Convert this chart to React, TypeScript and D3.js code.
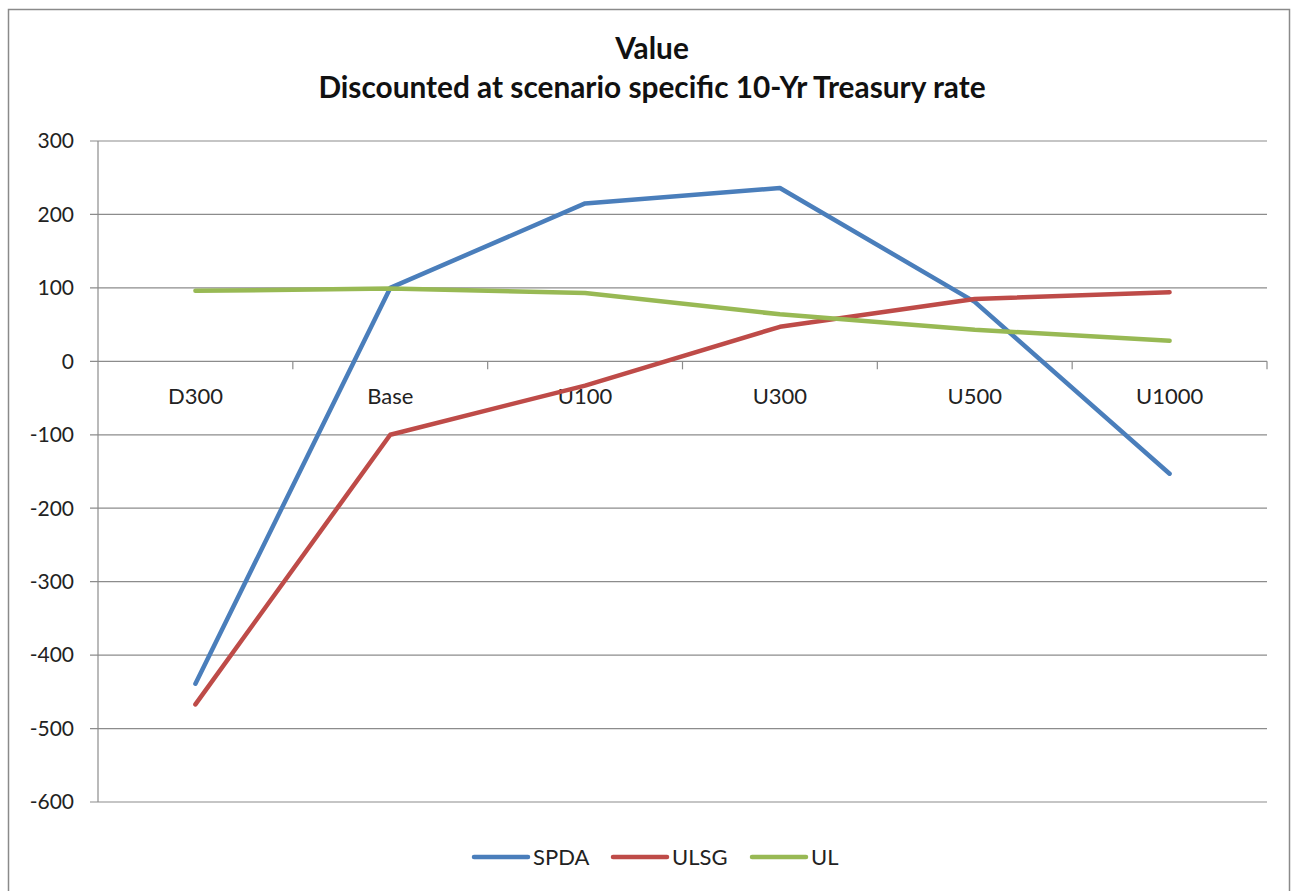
import React from "react";
import * as d3 from "d3";

const categories = ["D300", "Base", "U100", "U300", "U500", "U1000"];
const spda = [-439, 100, 215, 236, 81, -153];
const ulsg = [-467, -100, -33, 47, 85, 94];
const ul = [96, 99, 93, 64, 43, 28];
const yTicks = [300, 200, 100, 0, -100, -200, -300, -400, -500, -600];
const seriesNames = ["SPDA", "ULSG", "UL"];
const seriesColors = ["#4A7EBB", "#BE4B48", "#98B954"];

const W = 1299;
const H = 891;
const FONT = "Lato, 'Open Sans', sans-serif";

export default function App() {
  const left = 98;
  const right = 1267;
  const top = 141;
  const bottom = 802;
  const x = d3.scaleBand<string>().domain(categories).range([left, right]);
  const y = d3.scaleLinear().domain([-600, 300]).range([bottom, top]);
  const line = d3
    .line<number>()
    .x((_, i) => (x(categories[i]) as number) + x.bandwidth() / 2)
    .y((d) => y(d));
  const series = [spda, ulsg, ul];
  const legendX = [474, 613, 752];
  const legendY = 857;
  const gridColor = "#8c8c8c";

  return (
    <svg
      width={W}
      height={H}
      style={{ position: "absolute", left: 0, top: 0, display: "block" }}
      fontFamily={FONT}
    >
      <rect x={0} y={0} width={W} height={H} fill="#fff" />
      <rect x={8.5} y={9.5} width={1281} height={890} fill="#fff" stroke="#8a8a8a" strokeWidth={1.5} />
      <text x={652} y={49} dy="0.35em" textAnchor="middle" fontSize={29.8} fontWeight="bold" fill="#111">
        Value
      </text>
      <text x={652} y={88} dy="0.35em" textAnchor="middle" fontSize={29.8} fontWeight="bold" fill="#111">
        Discounted at scenario specific 10-Yr Treasury rate
      </text>
      {yTicks.map((t) => (
        <g key={t}>
          <line x1={90} x2={right} y1={y(t)} y2={y(t)} stroke={gridColor} strokeWidth={1.2} />
          <text x={74} y={y(t)} dy="0.35em" textAnchor="end" fontSize={21} fill="#222">
            {t}
          </text>
        </g>
      ))}
      <line x1={left} x2={left} y1={top} y2={bottom} stroke={gridColor} strokeWidth={1.2} />
      {categories.map((c, i) => (
        <g key={c}>
          <line
            x1={(x(c) as number) + x.bandwidth()}
            x2={(x(c) as number) + x.bandwidth()}
            y1={y(0)}
            y2={y(0) + 8}
            stroke={gridColor}
            strokeWidth={1.2}
          />
          <text
            x={(x(c) as number) + x.bandwidth() / 2}
            y={y(0) + 35}
            dy="0.35em"
            textAnchor="middle"
            fontSize={22}
            fill="#222"
          >
            {c}
          </text>
        </g>
      ))}
      {series.map((s, i) => (
        <path
          key={seriesNames[i]}
          d={line(s) as string}
          fill="none"
          stroke={seriesColors[i]}
          strokeWidth={4.5}
          strokeLinecap="round"
          strokeLinejoin="round"
        />
      ))}
      {seriesNames.map((n, i) => (
        <g key={n}>
          <line
            x1={legendX[i]}
            x2={legendX[i] + 54}
            y1={legendY}
            y2={legendY}
            stroke={seriesColors[i]}
            strokeWidth={4.5}
            strokeLinecap="round"
          />
          <text x={legendX[i] + 59} y={legendY} dy="0.35em" fontSize={22} fill="#222">
            {n}
          </text>
        </g>
      ))}
    </svg>
  );
}
